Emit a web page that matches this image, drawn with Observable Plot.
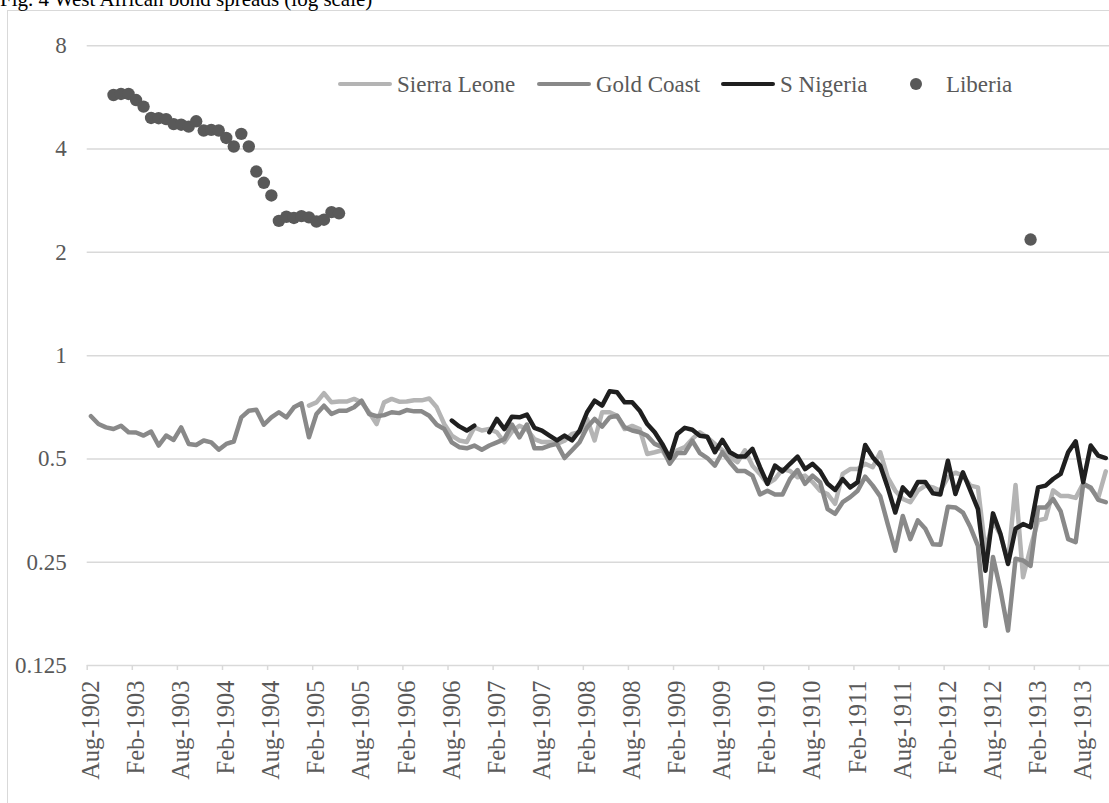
<!DOCTYPE html>
<html>
<head>
<meta charset="utf-8">
<script src="https://cdn.jsdelivr.net/npm/d3@7"></script>
<script src="https://cdn.jsdelivr.net/npm/@observablehq/plot@0.6"></script>
<style>
  html, body { margin: 0; padding: 0; background: #fff; overflow: hidden; }
  body { width: 1109px; height: 803px; position: relative; font-family: "Liberation Serif", "Times New Roman", serif; }
  #title { position: absolute; left: 0; top: -10.6px; font-size: 21px; line-height: 21px; color: #000; white-space: nowrap; }
  #chart { position: absolute; left: 0; top: 0; }
  #frame { position: absolute; left: 7px; top: 10px; width: 2000px; height: 2000px; border: 1.3px solid #d9d9d9; pointer-events: none; }
  .lg { position: absolute; top: 71px; height: 26px; display: flex; align-items: center; font-size: 23px; line-height: 1; color: #595959; white-space: nowrap; }
  .sw { width: 54px; height: 4.5px; border-radius: 2.25px; margin-right: 5px; }
  .dotsw { width: 12.4px; height: 12.4px; border-radius: 50%; background: #595959; margin-left: 21px; margin-right: 24px; }
</style>
</head>
<body>
<div id="chart"></div>
<div id="frame"></div>
<div id="title">Fig. 4 West African bond spreads (log scale)</div>
<div id="legend"></div>
<script>
// Monthly observations, Aug-1902 to Nov-1913
const firstMonth = new Date(Date.UTC(1902, 7, 1));
const endMonth = new Date(Date.UTC(1913, 11, 1));
const formatMonth = d3.utcFormat("%b-%Y");
const monthLabels = d3.utcMonth.range(firstMonth, endMonth).map(formatMonth);

// Y axis ticks (log base 2)
const yTicks = [0.125, 0.25, 0.5, 1, 2, 4, 8];
const yTickLabels = ["0.125", "0.25", "0.5", "1", "2", "4", "8"];

// Series names and colours
const seriesNames = ["Sierra Leone", "Gold Coast", "S Nigeria", "Liberia"];
const seriesColors = ["#b4b4b4", "#898989", "#1f1f1f", "#595959"];

// Gold Coast spread, from Aug-1902
const goldCoastStart = "Aug-1902";
const goldCoast = [
  0.666, 0.632, 0.618, 0.611, 0.625, 0.598, 0.597, 0.585, 0.601, 0.547,
  0.585, 0.568, 0.618, 0.553, 0.549, 0.566, 0.559, 0.532, 0.553, 0.562,
  0.661, 0.691, 0.696, 0.629, 0.661, 0.684, 0.661, 0.707, 0.726, 0.578,
  0.676, 0.715, 0.676, 0.691, 0.691, 0.707, 0.739, 0.676, 0.666, 0.671,
  0.684, 0.680, 0.694, 0.688, 0.688, 0.668, 0.629, 0.611, 0.559, 0.541,
  0.537, 0.547, 0.532, 0.547, 0.559, 0.571, 0.630, 0.578, 0.630, 0.537,
  0.537, 0.547, 0.553, 0.503, 0.530, 0.559, 0.618, 0.654, 0.621, 0.661,
  0.668, 0.618, 0.605, 0.598, 0.584, 0.553, 0.541, 0.484, 0.520, 0.520,
  0.565, 0.520, 0.503, 0.478, 0.523, 0.489, 0.461, 0.461, 0.447, 0.394,
  0.404, 0.394, 0.394, 0.437, 0.464, 0.423, 0.447, 0.428, 0.357, 0.346,
  0.374, 0.387, 0.404, 0.444, 0.418, 0.389, 0.323, 0.270, 0.341, 0.292,
  0.331, 0.313, 0.282, 0.281, 0.363, 0.361, 0.349, 0.316, 0.279, 0.163,
  0.259, 0.207, 0.158, 0.256, 0.253, 0.244, 0.361, 0.361, 0.382, 0.352,
  0.292, 0.286, 0.423, 0.413, 0.380, 0.374
];

// Sierra Leone spread, from Jan-1905
const sierraLeoneStart = "Jan-1905";
const sierraLeone = [
  0.715,
  0.731, 0.777, 0.731, 0.735, 0.735, 0.748, 0.731, 0.684, 0.632, 0.731,
  0.748, 0.734, 0.735, 0.741, 0.741, 0.750, 0.707, 0.632, 0.585, 0.566,
  0.560, 0.618, 0.605, 0.611, 0.598, 0.559, 0.600, 0.625, 0.610, 0.571,
  0.560, 0.560, 0.553, 0.565, 0.591, 0.598, 0.654, 0.566, 0.684, 0.684,
  0.668, 0.611, 0.624, 0.611, 0.517, 0.523, 0.530, 0.489, 0.530, 0.541,
  0.572, 0.598, 0.578, 0.553, 0.530, 0.506, 0.489, 0.530, 0.478, 0.452,
  0.423, 0.437, 0.467, 0.461, 0.442, 0.447, 0.428, 0.404, 0.395, 0.370,
  0.452, 0.467, 0.467, 0.484, 0.473, 0.523, 0.442, 0.404, 0.382, 0.374,
  0.404, 0.418, 0.413, 0.404, 0.442, 0.456, 0.447, 0.418, 0.413, 0.270,
  0.330, 0.300, 0.250, 0.420, 0.226, 0.276, 0.331, 0.335, 0.405, 0.390,
  0.390, 0.385, 0.424, 0.410, 0.385, 0.460
];

// Southern Nigeria spread, from Aug-1906 (no quote for Dec-1906)
const sNigeriaStart = "Aug-1906";
const sNigeria = [
  0.647, 0.622, 0.605, 0.625, null, 0.598, 0.654, 0.611, 0.664, 0.661,
  0.673, 0.616, 0.605, 0.585, 0.566, 0.585, 0.566, 0.605, 0.684, 0.739,
  0.715, 0.787, 0.782, 0.731, 0.731, 0.691, 0.632, 0.598, 0.553, 0.503,
  0.591, 0.616, 0.608, 0.584, 0.580, 0.523, 0.568, 0.523, 0.508, 0.508,
  0.535, 0.473, 0.423, 0.478, 0.460, 0.484, 0.508, 0.467, 0.484, 0.461,
  0.423, 0.406, 0.437, 0.413, 0.428, 0.549, 0.506, 0.478, 0.413, 0.349,
  0.413, 0.391, 0.428, 0.428, 0.397, 0.394, 0.494, 0.395, 0.457, 0.404,
  0.357, 0.236, 0.347, 0.302, 0.247, 0.313, 0.323, 0.316, 0.413, 0.418,
  0.437, 0.452, 0.523, 0.563, 0.428, 0.547, 0.511, 0.503
];

// Liberia spread: monthly from Nov-1902 to May-1905, plus one later quote
const liberiaStart = "Nov-1902";
const liberia = [
  5.75, 5.79, 5.79, 5.56, 5.32, 4.93, 4.92, 4.89, 4.73, 4.71,
  4.65, 4.82, 4.53, 4.55, 4.53, 4.31, 4.07, 4.43, 4.07, 3.44,
  3.19, 2.93, 2.47, 2.54, 2.52, 2.55, 2.53, 2.46, 2.49, 2.62,
  2.60
];
const liberiaLateMonth = "Jan-1913";
const liberiaLate = 2.18;

// Build long-format rows: month index + value
function rowsFor(name, start, values) {
  const i0 = monthLabels.indexOf(start);
  return values.map((v, k) => ({series: name, m: i0 + k, value: v}));
}
const sierraRows = rowsFor("Sierra Leone", sierraLeoneStart, sierraLeone);
const goldRows = rowsFor("Gold Coast", goldCoastStart, goldCoast);
const nigeriaRows = rowsFor("S Nigeria", sNigeriaStart, sNigeria);
const liberiaRows = rowsFor("Liberia", liberiaStart, liberia)
  .concat(rowsFor("Liberia", liberiaLateMonth, [liberiaLate]));

// Labelled months every six months; tick marks sit on the category boundaries
const labelIdx = monthLabels.map((d, i) => i).filter(i => i % 6 === 0);
const boundaryIdx = labelIdx.map(i => i - 0.5);

const lineStyle = {x: "m", y: "value", strokeWidth: 4.5, strokeLinejoin: "round", strokeLinecap: "round"};

const chart = Plot.plot({
  width: 1109,
  height: 803,
  marginLeft: 86.7,
  marginRight: 0,
  marginTop: 45.3,
  marginBottom: 138,
  style: {
    fontFamily: "'Liberation Serif', 'Times New Roman', serif",
    fontSize: "23px",
    color: "#595959",
    background: "transparent",
    overflow: "visible"
  },
  x: {type: "linear", domain: [-0.5, monthLabels.length - 0.5]},
  y: {type: "log", base: 2, domain: [0.125, 8]},
  marks: [
    Plot.ruleY(yTicks, {stroke: "#d9d9d9", strokeWidth: 1.5}),
    Plot.axisY({ticks: yTicks, tickSize: 0, tickPadding: 20.5, label: null, tickFormat: d => yTickLabels[yTicks.indexOf(d)], fontSize: 23}),
    Plot.axisX({ticks: boundaryIdx, tickSize: 5, tickPadding: 0, label: null, tickFormat: () => "", stroke: "#d9d9d9", strokeWidth: 1.5}),
    Plot.axisX({ticks: labelIdx, tickSize: 0, tickPadding: 15, label: null, tickRotate: -90, tickFormat: i => monthLabels[i], fontSize: 24.5}),
    Plot.line(sierraRows, {...lineStyle, stroke: seriesColors[0]}),
    Plot.line(goldRows, {...lineStyle, stroke: seriesColors[1]}),
    Plot.line(nigeriaRows, {...lineStyle, stroke: seriesColors[2]}),
    Plot.dot(liberiaRows, {x: "m", y: "value", r: 6.2, fill: seriesColors[3], stroke: "none"})
  ]
});
document.getElementById("chart").appendChild(chart);

// Legend along the top of the plot
const legendLeft = [338, 537, 721, 888.5];
const legend = document.getElementById("legend");
seriesNames.forEach((name, i) => {
  const item = document.createElement("div");
  item.className = "lg";
  item.style.left = legendLeft[i] + "px";
  const sw = document.createElement("div");
  if (name === "Liberia") {
    sw.className = "dotsw";
  } else {
    sw.className = "sw";
    sw.style.background = seriesColors[i];
  }
  const label = document.createElement("span");
  label.textContent = name;
  item.appendChild(sw);
  item.appendChild(label);
  legend.appendChild(item);
});
</script>
</body>
</html>
